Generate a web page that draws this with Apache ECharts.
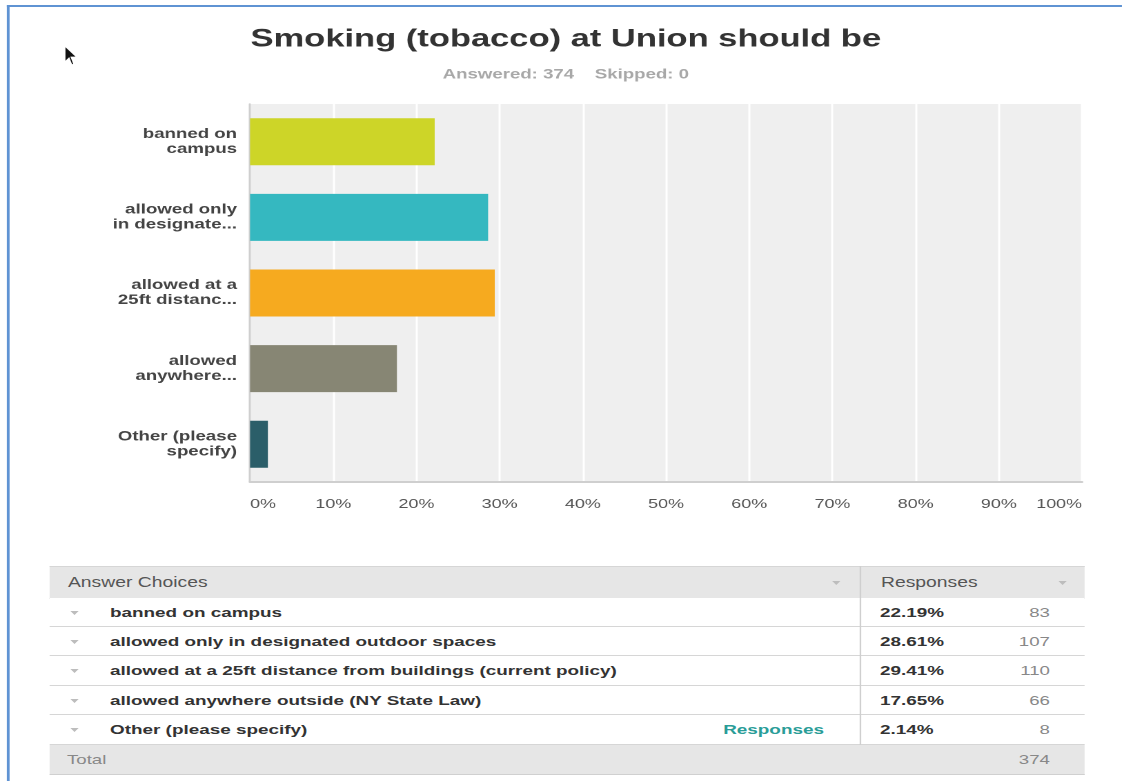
<!DOCTYPE html>
<html>
<head>
<meta charset="utf-8">
<script src="https://cdn.jsdelivr.net/npm/echarts@6/dist/echarts.min.js"></script>
<style>
  html, body { margin: 0; padding: 0; background: #fff; overflow: hidden; }
  #outer { position: relative; width: 1122px; height: 781px; overflow: hidden; }
  /* the reference screenshot is horizontally stretched; reproduce by scaling the stage in x */
  #stage { position: absolute; left: 0; top: 0; width: 813px; height: 781px; transform: scaleX(1.38); transform-origin: 0 0;
           font-family: "Liberation Sans", Arial, Helvetica, sans-serif; }
  #chart { position: absolute; left: 0; top: 0; width: 813px; height: 781px; }
  #frameTop { position: absolute; left: 5px; top: 5px; width: 808px; height: 2px; background: #5f93d3; }
  #frameLeft { position: absolute; left: 5px; top: 5px; width: 1.5px; height: 776px; background: #5f93d3; }
  #table { position: absolute; left: 35.5px; top: 566px; width: 750.7px; }
  .row { position: absolute; left: 0; width: 750.7px; box-sizing: border-box; }
  .hdr { background: #e6e6e6; border-top: 1px solid #d6d6d6; border-bottom: 1px solid #d0d0d0; }
  .body { background: #fff; border-bottom: 1px solid #d6d6d6; }
  .cell { position: absolute; top: 0; white-space: nowrap; }
  .tri { position: absolute; width: 0; height: 0; border-left: 3.8px solid transparent; border-right: 3.8px solid transparent; border-top: 4px solid #bdbdbd; }
  #vdiv { position: absolute; left: 587px; top: 0; width: 0.8px; height: 179px; background: #cfcfcf; }
</style>
</head>
<body>
<div id="outer">
<div id="stage">
  <div id="chart"></div>
  <div id="frameTop"></div>
  <div id="frameLeft"></div>
  <div id="table"></div>
</div>
</div>
<script>
// ---- data ----
var title = "Smoking (tobacco) at Union should be";
var subtitle = "Answered: 374    Skipped: 0";
var axisCategories = ["banned on\ncampus", "allowed only\nin designate...", "allowed at a\n25ft distanc...", "allowed\nanywhere...", "Other (please\nspecify)"];
var choices = ["banned on campus", "allowed only in designated outdoor spaces", "allowed at a 25ft distance from buildings (current policy)", "allowed anywhere outside (NY State Law)", "Other (please specify)"];
var percents = [22.19, 28.61, 29.41, 17.65, 2.14];
var counts = [83, 107, 110, 66, 8];
var total = 374;
var barColors = ["#cdd528", "#35b8c0", "#f6aa1f", "#878674", "#2b5e69"];

// ---- chart ----
var chart = echarts.init(document.getElementById('chart'), null, { renderer: 'canvas', devicePixelRatio: 2 });
var FONT = '"Liberation Sans", Arial, Helvetica, sans-serif';
chart.setOption({
  animation: false,
  textStyle: { fontFamily: FONT },
  title: {
    text: title,
    subtext: subtitle,
    left: 405, textAlign: 'center',
    top: 22,
    itemGap: 16,
    textStyle: { fontSize: 25, fontWeight: 'bold', color: '#333', fontFamily: FONT },
    subtextStyle: { fontSize: 13.5, fontWeight: 'bold', color: '#a8a8a8', fontFamily: FONT }
  },
  grid: { left: 181.2, right: 28.9, top: 104, bottom: 299, show: true, backgroundColor: '#efefef', borderWidth: 0 },
  xAxis: {
    type: 'value', min: 0, max: 100, interval: 10,
    axisLine: { show: true, lineStyle: { color: '#cfcfcf', width: 2 } },
    axisTick: { show: false },
    splitLine: { show: true, lineStyle: { color: '#ffffff', width: 1.5 } },
    axisLabel: { formatter: '{value}%', color: '#555', fontSize: 13, margin: 16, alignMinLabel: 'left', alignMaxLabel: 'right', fontFamily: FONT }
  },
  yAxis: {
    type: 'category', data: axisCategories, inverse: true,
    axisLine: { show: true, lineStyle: { color: '#cfcfcf', width: 1.5 } },
    axisTick: { show: false },
    splitLine: { show: false },
    axisLabel: { color: '#444', fontSize: 13.5, fontWeight: 'bold', lineHeight: 15, margin: 9.5, align: 'right', padding: [3, 0, 0, 0], fontFamily: FONT }
  },
  series: [{
    type: 'bar',
    data: percents.map(function (v, i) { return { value: v, itemStyle: { color: barColors[i] } }; }),
    barWidth: 47
  }],
  graphic: [{
    type: 'polygon',
    shape: { points: [[47, 46], [47, 62], [50, 58], [52, 65], [53.5, 64], [51.5, 57], [55.5, 57]] },
    style: { fill: '#111', stroke: '#fff', lineWidth: 0.8 }
  }]
});

// ---- table ----
var S = 1.38;
var tbl = document.getElementById('table');
function add(parent, html) { var d = document.createElement('div'); d.innerHTML = html; var el = d.firstChild; parent.appendChild(el); return el; }
function tri(parent, x, y) { var t = add(parent, '<div class="tri"></div>'); t.style.left = (x / S) + 'px'; t.style.top = y + 'px'; }
function cell(parent, text, leftPx, opts) {
  var c = add(parent, '<div class="cell"></div>');
  c.textContent = text;
  if (leftPx !== null) c.style.left = (leftPx / S) + 'px';
  for (var k in opts) c.style[k] = opts[k];
  return c;
}

var hdr = add(tbl, '<div class="row hdr"></div>');
hdr.style.top = '0px'; hdr.style.height = '33px';
cell(hdr, 'Answer Choices', 19, { lineHeight: '31px', fontSize: '14px', color: '#555' });
cell(hdr, 'Responses', 832, { lineHeight: '31px', fontSize: '14px', color: '#555' });
tri(hdr, 783, 14); tri(hdr, 1009, 14);

var rowTops = [32, 61, 90, 120, 149];
for (var i = 0; i < choices.length; i++) {
  var r = add(tbl, '<div class="row body"></div>');
  r.style.top = rowTops[i] + 'px'; r.style.height = (i < 4 ? rowTops[i + 1] - rowTops[i] : 30) + 'px';
  tri(r, 21, 13);
  cell(r, choices[i], 61, { lineHeight: '29px', fontSize: '13.7px', fontWeight: 'bold', color: '#333' });
  cell(r, percents[i].toFixed(2) + '%', 831, { lineHeight: '29px', fontSize: '13.7px', fontWeight: 'bold', color: '#333' });
  cell(r, String(counts[i]), null, { right: (35 / S) + 'px', lineHeight: '29px', fontSize: '13.5px', color: '#888' });
  if (i === choices.length - 1) {
    cell(r, 'Responses', null, { right: (261 / S) + 'px', lineHeight: '29px', fontSize: '13.7px', fontWeight: 'bold', color: '#2a9d98' });
  }
}
var tot = add(tbl, '<div class="row hdr"></div>');
tot.style.top = '179px'; tot.style.height = '30px'; tot.style.borderTop = 'none';
cell(tot, 'Total', 18, { lineHeight: '29px', fontSize: '13.5px', color: '#888' });
cell(tot, String(total), null, { right: (35 / S) + 'px', lineHeight: '29px', fontSize: '13.5px', color: '#888' });

add(tbl, '<div id="vdiv"></div>');
</script>
</body>
</html>
